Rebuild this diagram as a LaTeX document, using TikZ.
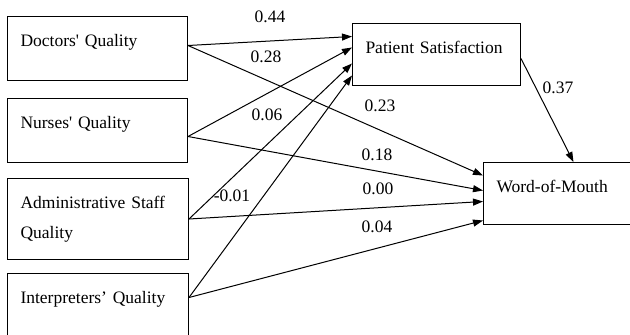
\documentclass[tikz,border=0pt]{standalone}
\usepackage{fontspec}
\setmainfont{Liberation Serif}
\usetikzlibrary{arrows.meta}
\begin{document}
\begin{tikzpicture}[x=1pt,y=-1pt,line width=1pt,
	fac/.style={draw,anchor=north west,inner xsep=13pt,inner ysep=0pt,align=left,text height=30pt,text depth=34pt,font=\fontsize{17.5pt}{30pt}\selectfont},
	coef/.style={inner sep=0pt,font=\fontsize{17.5pt}{30pt}\selectfont},
	arr/.style={-{Triangle[length=10pt,width=7pt]}}]
	\useasboundingbox (0,0) rectangle (630,335);
	\clip (0,0) rectangle (630,335);
	\node[fac,text width=154pt] (doc) at (7,16) {Doctors\textquotesingle\ Quality};
	\node[fac,text width=154pt] (nur) at (7,98) {Nurses\textquotesingle\ Quality};
	\node[fac,text width=155pt,text depth=51pt] (adm) at (7,178) {Administrative Staff\\Quality};
	\node[fac,text width=155pt] (int) at (7,273) {Interpreters’ Quality};
	\node[fac,text width=142pt,text depth=32pt] (ps) at (352,23) {Patient Satisfaction};
	\node[fac,text width=148pt,text depth=32pt] (wom) at (483,162) {Word-of-Mouth};
	\draw[arr] ([yshift=3pt]doc.east) -- ([yshift=18pt]ps.west);
	\draw[arr] ([yshift=3pt]doc.east) -- ([yshift=18pt]wom.west);
	\draw[arr] ([yshift=-6pt]nur.east) -- ([yshift=7pt]ps.west);
	\draw[arr] ([yshift=-6pt]nur.east) -- ([yshift=3pt]wom.west);
	\draw[arr] (adm.east) -- ([yshift=-9pt]ps.west);
	\draw[arr] (adm.east) -- ([yshift=-8pt]wom.west);
	\draw[arr] ([yshift=8pt]int.east) -- ([yshift=-21pt]ps.west);
	\draw[arr] ([yshift=8pt]int.east) -- ([yshift=-27pt]wom.west);
	\draw[arr] ([yshift=-4pt]ps.east) -- ([xshift=3pt]wom.north);
	\node[coef] (c44) at (270,17) {0.44};
	\node[coef] (c28) at (266,57) {0.28};
	\node[coef] (c06) at (267,115) {0.06};
	\node[coef] (cm01) at (232,196) {-0.01};
	\node[coef] (c23) at (380,106) {0.23};
	\node[coef] (c18) at (377,155) {0.18};
	\node[coef] (c00) at (378,189) {0.00};
	\node[coef] (c04) at (377,227) {0.04};
	\node[coef] (c37) at (558,88) {0.37};
\end{tikzpicture}
\end{document}
